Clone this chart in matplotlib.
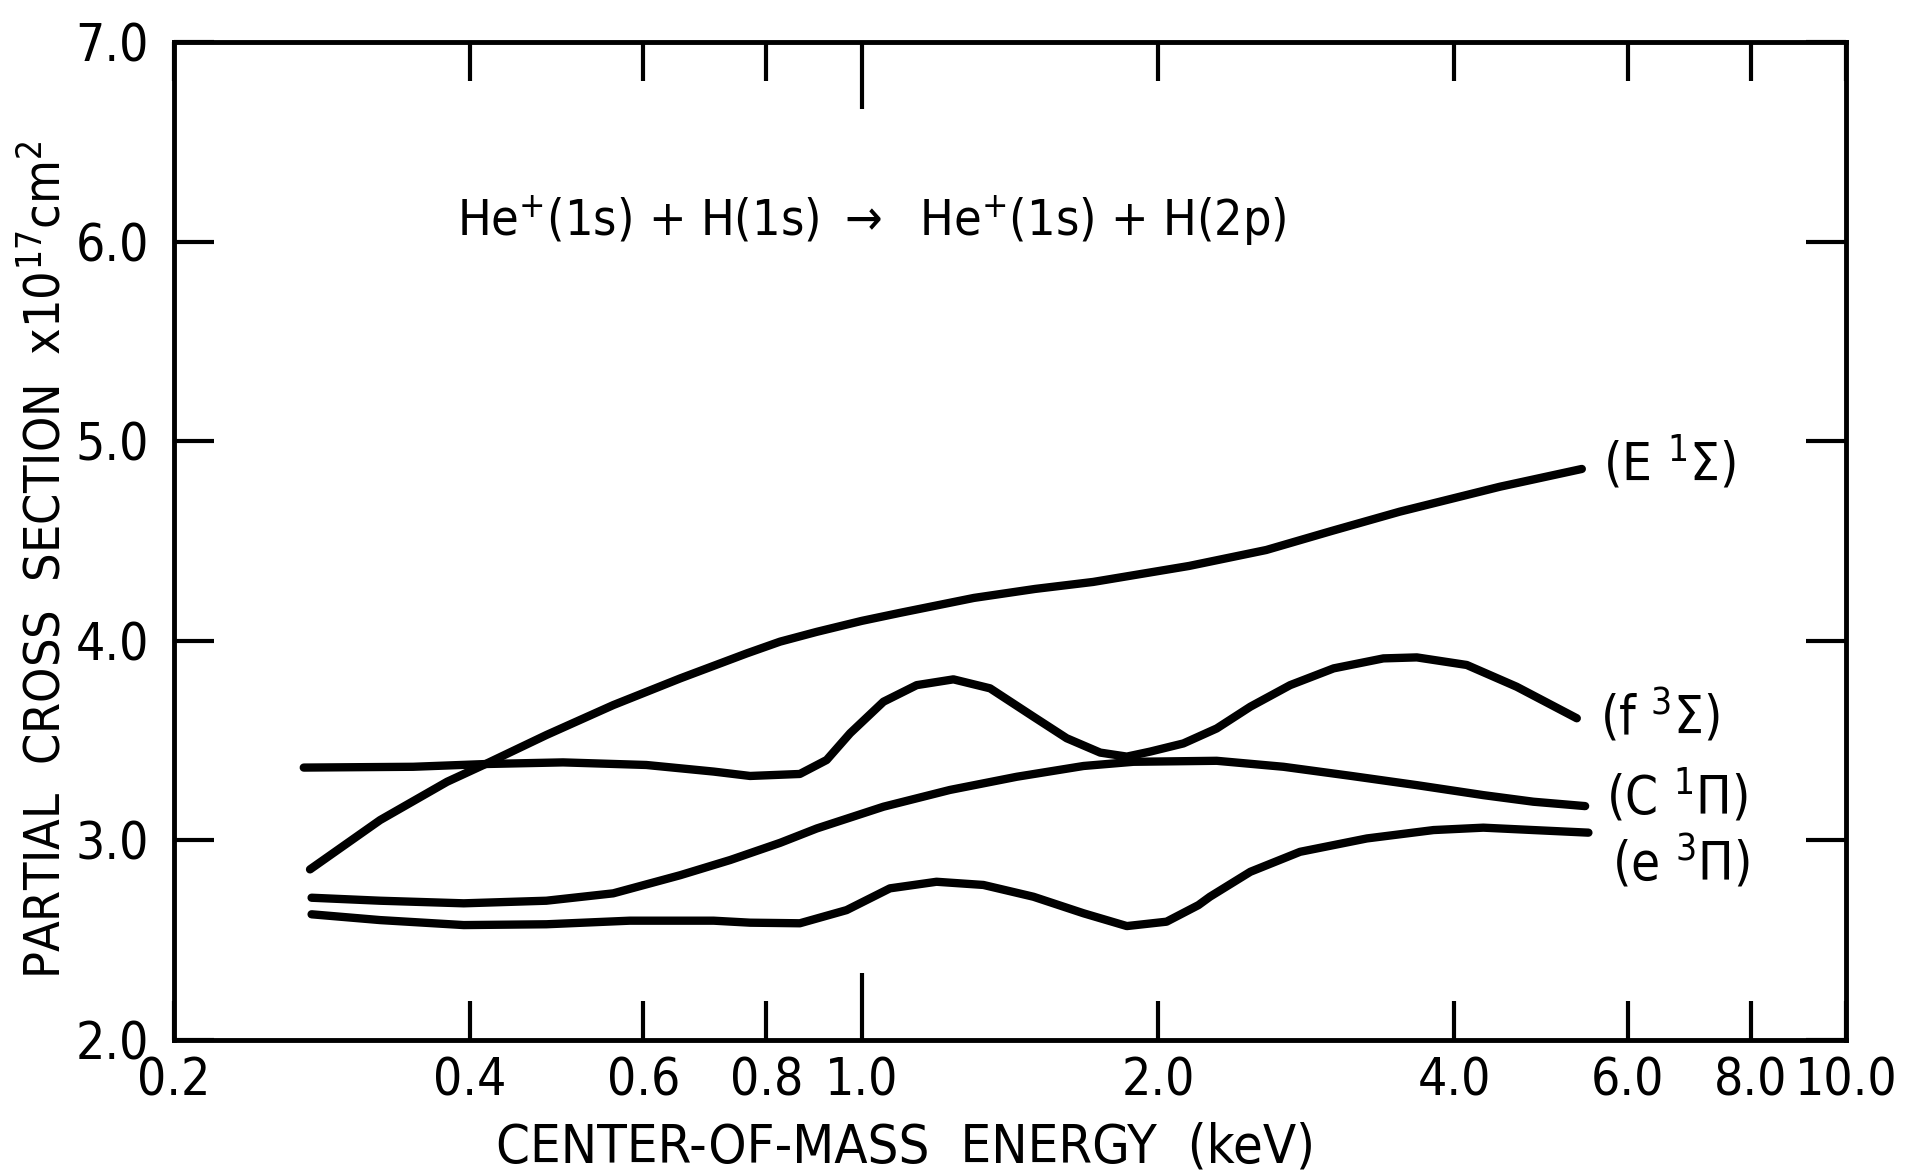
import matplotlib.pyplot as plt

plt.rcParams['font.family'] = ['DejaVu Sans']
plt.rcParams['font.stretch'] = 'condensed'
plt.rcParams['mathtext.fontset'] = 'dejavusans'

# curves (energy in keV, cross section in 1e-17 cm^2)
e_E = [0.275, 0.324, 0.379, 0.416, 0.478, 0.559, 0.654, 0.764, 0.826, 0.90, 1.0, 1.093,
       1.30, 1.50, 1.718, 2.15, 2.576, 3.0, 3.52, 4.45, 5.39]
s_E = [2.855, 3.102, 3.294, 3.386, 3.528, 3.678, 3.812, 3.937, 3.996, 4.045, 4.10, 4.14,
       4.215, 4.26, 4.295, 4.375, 4.455, 4.55, 4.647, 4.772, 4.861]

e_f = [0.271, 0.350, 0.416, 0.497, 0.604, 0.707, 0.770, 0.865, 0.921, 0.973, 1.052, 1.137,
       1.239, 1.350, 1.494, 1.615, 1.747, 1.859, 1.963, 2.122, 2.294, 2.482, 2.724, 3.016,
       3.388, 3.664, 4.118, 4.628, 5.327]
s_f = [3.365, 3.369, 3.383, 3.391, 3.378, 3.345, 3.323, 3.333, 3.403, 3.537, 3.695, 3.778,
       3.807, 3.762, 3.620, 3.512, 3.440, 3.420, 3.445, 3.486, 3.561, 3.670, 3.778, 3.862,
       3.912, 3.917, 3.879, 3.770, 3.612]

e_C = [0.276, 0.324, 0.394, 0.478, 0.559, 0.654, 0.735, 0.826, 0.900, 1.052, 1.229, 1.437,
       1.680, 1.888, 2.294, 2.682, 3.134, 3.664, 4.281, 4.812, 5.432]
s_C = [2.713, 2.698, 2.685, 2.698, 2.735, 2.826, 2.902, 2.988, 3.060, 3.169, 3.253, 3.319,
       3.373, 3.394, 3.399, 3.369, 3.324, 3.277, 3.227, 3.194, 3.172]

e_e = [0.276, 0.324, 0.394, 0.478, 0.581, 0.707, 0.770, 0.865, 0.965, 1.068, 1.191, 1.329,
       1.494, 1.680, 1.859, 2.04, 2.198, 2.258, 2.482, 2.788, 3.26, 3.81, 4.281, 4.812, 5.474]
s_e = [2.630, 2.601, 2.576, 2.580, 2.598, 2.598, 2.588, 2.585, 2.651, 2.760, 2.793, 2.777,
       2.718, 2.635, 2.571, 2.593, 2.676, 2.718, 2.843, 2.943, 3.010, 3.052, 3.064, 3.052, 3.039]

x_minor = [0.2, 0.4, 0.6, 0.8, 2.0, 4.0, 6.0, 8.0, 10.0]
x_minor_labels = ['0.2', '0.4', '0.6', '0.8', '2.0', '4.0', '6.0', '8.0', '10.0']
y_ticks = [2.0, 3.0, 4.0, 5.0, 6.0, 7.0]

fig = plt.figure(figsize=(19.07, 11.76), dpi=100)
ax = fig.add_axes([0.0912, 0.1156, 0.8768, 0.8487])

for xs, ys in [(e_E, s_E), (e_f, s_f), (e_C, s_C), (e_e, s_e)]:
    ax.plot(xs, ys, color='black', lw=6, solid_capstyle='round', solid_joinstyle='round')

ax.set_xscale('log')
ax.set_xlim(0.2, 10.0)
ax.set_ylim(2.0, 7.0)

ax.set_xticks([1.0], labels=['1.0'])
ax.set_xticks(x_minor, labels=x_minor_labels, minor=True)
ax.set_yticks(y_ticks, labels=[f'{v:.1f}' for v in y_ticks])

for s in ax.spines.values():
    s.set_linewidth(3.5)

ax.tick_params(axis='x', which='major', direction='in', length=48, width=3,
               top=True, pad=12, labelsize=37)
ax.tick_params(axis='x', which='minor', direction='in', length=28, width=3,
               top=True, pad=12, labelsize=37)
ax.tick_params(axis='y', which='major', direction='in', length=29, width=3,
               right=True, pad=18, labelsize=37)

# reaction
ax.text(0.4175, 0.82, r'He$^{+}$(1s) + H(1s) $\rightarrow$  He$^{+}$(1s) + H(2p)',
        transform=ax.transAxes, ha='center', va='center', fontsize=36)

# curve labels
ax.text(5.66, 4.886, r'(E $^{1}\Sigma$)', ha='left', va='center', fontsize=38)
ax.text(5.62, 3.62, r'(f $^{3}\Sigma$)', ha='left', va='center', fontsize=38)
ax.text(5.70, 3.22, r'(C $^{1}\Pi$)', ha='left', va='center', fontsize=38)
ax.text(5.78, 2.89, r'(e $^{3}\Pi$)', ha='left', va='center', fontsize=38)

fig.text(0.475, 0.024, 'CENTER-OF-MASS  ENERGY  (keV)', ha='center', va='center', fontsize=39)
fig.text(0.024, 0.524, r'PARTIAL  CROSS  SECTION  x10$^{17}$cm$^{2}$',
         ha='center', va='center', rotation=90, fontsize=36)

fig.savefig('out.png', dpi=100)
